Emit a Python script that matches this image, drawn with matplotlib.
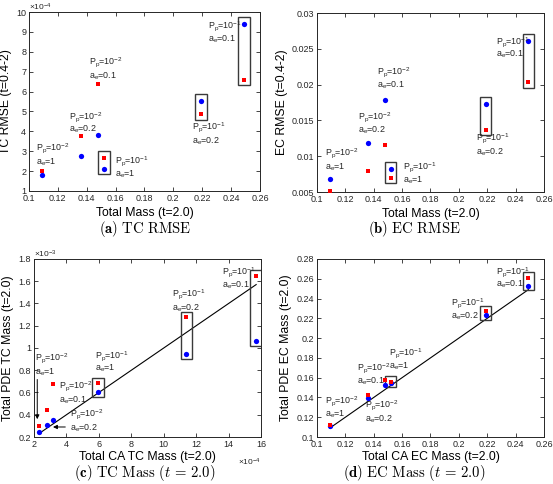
import numpy as np
import matplotlib
matplotlib.use("Agg")
import matplotlib.pyplot as plt
from matplotlib.patches import Rectangle
from matplotlib.ticker import FuncFormatter

# ----------------------
# DATA
# ----------------------
# total mass at t=2.0 for the six runs (order: Pp=1e-2 ae=1,0.2,0.1 / Pp=1e-1 ae=1,0.2,0.1)
total_mass = [0.109, 0.136, 0.148, 0.152, 0.219, 0.249]

tc_rmse_blue = [1.78e-4, 2.78e-4, 3.80e-4, 2.12e-4, 5.50e-4, 9.40e-4]
tc_rmse_red = [2.00e-4, 3.78e-4, 6.40e-4, 2.65e-4, 4.85e-4, 6.60e-4]

ec_rmse_blue = [0.0068, 0.0118, 0.0178, 0.0082, 0.0173, 0.0261]
ec_rmse_red = [0.0051, 0.0080, 0.0116, 0.0070, 0.0137, 0.0203]

tc_ca_mass = [2.30e-4, 2.80e-4, 3.17e-4, 5.95e-4, 11.4e-4, 15.7e-4]
tc_pde_blue = [0.245e-3, 0.308e-3, 0.356e-3, 0.603e-3, 0.943e-3, 1.063e-3]
tc_pde_red = [0.303e-3, 0.447e-3, 0.672e-3, 0.681e-3, 1.277e-3, 1.650e-3]

ec_ca_mass = [0.109, 0.136, 0.148, 0.152, 0.219, 0.249]
ec_pde_blue = [0.111, 0.139, 0.153, 0.155, 0.223, 0.253]
ec_pde_red = [0.112, 0.142, 0.158, 0.156, 0.227, 0.261]

pp_labels = ["10$^{-2}$", "10$^{-2}$", "10$^{-2}$", "10$^{-1}$", "10$^{-1}$", "10$^{-1}$"]
ae_labels = ["1", "0.2", "0.1", "1", "0.2", "0.1"]
boxed = [3, 4, 5]

# ----------------------
# STYLE
# ----------------------
plt.rcParams["font.family"] = ["Liberation Sans", "DejaVu Sans"]
plt.rcParams["mathtext.fontset"] = "custom"
plt.rcParams["mathtext.rm"] = "Liberation Sans"
plt.rcParams["mathtext.it"] = "Liberation Sans:italic"
plt.rcParams["mathtext.bf"] = "Liberation Sans:bold"

AX_COL = "#262626"
BLUE = "#0000ff"
RED = "#ff0000"
BOX_COL = "#3a3a3a"
TXT = 6.4
LAB = 8.8


def style_axes(ax, xlim, xticks, ylim, yticks, xscale=1.0, yscale=1.0):
    ax.set_xlim(*xlim)
    ax.set_ylim(*ylim)
    ax.set_xticks(xticks)
    ax.set_yticks(yticks)
    ax.xaxis.set_major_formatter(FuncFormatter(lambda v, _: "%g" % round(v / xscale, 6)))
    ax.yaxis.set_major_formatter(FuncFormatter(lambda v, _: "%g" % round(v / yscale, 6)))
    ax.tick_params(direction="in", top=True, right=True, length=3, width=0.6,
                   labelsize=6.5, pad=2, colors=AX_COL)
    for s in ax.spines.values():
        s.set_color(AX_COL)
        s.set_linewidth(0.7)


def draw_pairs(ax, x, blue, red):
    ax.plot(x, blue, "o", color=BLUE, markersize=3.8, markeredgewidth=0, zorder=3)
    ax.plot(x, red, "s", color=RED, markersize=2.7, markeredgewidth=0, zorder=3)


def draw_boxes(ax, x, blue, red, lo=0.03, hi=0.04, hw=0.025):
    x0, x1 = ax.get_xlim()
    y0, y1 = ax.get_ylim()
    for i in boxed:
        bot = min(blue[i], red[i]) - lo * (y1 - y0)
        top = max(blue[i], red[i]) + hi * (y1 - y0)
        w = hw * (x1 - x0)
        ax.add_patch(Rectangle((x[i] - w, bot), 2 * w, top - bot, fill=False,
                               edgecolor=BOX_COL, linewidth=1.0, zorder=2))


def draw_labels(ax, pos):
    for i, (tx, ty_p, ty_a) in enumerate(pos):
        ax.text(tx, ty_p, "P$_{\\rm p}$=" + pp_labels[i], fontsize=TXT, color=AX_COL, va="center")
        ax.text(tx, ty_a, "a$_{\\rm e}$=" + ae_labels[i], fontsize=TXT, color=AX_COL, va="center")


fig = plt.figure(figsize=(5.53, 4.84), dpi=100)
ax_a = fig.add_axes([0.0524, 0.6054, 0.4177, 0.3698])
ax_b = fig.add_axes([0.5732, 0.6033, 0.4105, 0.3698])
ax_c = fig.add_axes([0.0615, 0.0971, 0.4105, 0.3678])
ax_d = fig.add_axes([0.5732, 0.0971, 0.4105, 0.3678])

mass_ticks = np.arange(0.1, 0.261, 0.02)

# --- (a) TC RMSE
style_axes(ax_a, (0.1, 0.26), mass_ticks, (1e-4, 10e-4), np.arange(1, 11) * 1e-4, yscale=1e-4)
draw_pairs(ax_a, total_mass, tc_rmse_blue, tc_rmse_red)
draw_boxes(ax_a, total_mass, tc_rmse_blue, tc_rmse_red)
draw_labels(ax_a, [(0.1046, 3.18e-4, 2.47e-4), (0.1277, 4.74e-4, 4.1e-4), (0.1416, 7.47e-4, 6.77e-4),
                   (0.1594, 2.48e-4, 1.84e-4), (0.2126, 4.19e-4, 3.48e-4), (0.2237, 9.3e-4, 8.62e-4)])
ax_a.text(0.0, 1.01, "\u00d710$^{-4}$", transform=ax_a.transAxes, fontsize=6, color=AX_COL)
ax_a.set_xlabel("Total Mass (t=2.0)", fontsize=LAB, labelpad=3)
ax_a.set_ylabel("TC RMSE (t=0.4-2)", fontsize=LAB, labelpad=3)

# --- (b) EC RMSE
style_axes(ax_b, (0.1, 0.26), mass_ticks, (0.005, 0.03), np.arange(0.005, 0.0301, 0.005))
draw_pairs(ax_b, total_mass, ec_rmse_blue, ec_rmse_red)
draw_boxes(ax_b, total_mass, ec_rmse_blue, ec_rmse_red)
draw_labels(ax_b, [(0.1056, 0.01037, 0.0085), (0.1286, 0.01551, 0.01365), (0.142, 0.0218, 0.01995),
                   (0.1608, 0.0085, 0.00664), (0.2124, 0.01248, 0.0106), (0.226, 0.026, 0.0243)])
ax_b.set_xlabel("Total Mass (t=2.0)", fontsize=LAB, labelpad=3)
ax_b.set_ylabel("EC RMSE (t=0.4-2)", fontsize=LAB, labelpad=3)

# --- (c) TC Mass
style_axes(ax_c, (2e-4, 16e-4), np.arange(2, 17, 2) * 1e-4, (0.2e-3, 1.8e-3),
           np.arange(0.2, 1.81, 0.2) * 1e-3, xscale=1e-4, yscale=1e-3)
ax_c.plot([tc_ca_mass[0], tc_ca_mass[-1]], [tc_ca_mass[0], tc_ca_mass[-1]],
          color="black", linewidth=0.8, zorder=2)
draw_pairs(ax_c, tc_ca_mass, tc_pde_blue, tc_pde_red)
draw_boxes(ax_c, tc_ca_mass, tc_pde_blue, tc_pde_red, lo=0.028, hi=0.03)
draw_labels(ax_c, [(2.04e-4, 0.905e-3, 0.785e-3), (4.2e-4, 0.407e-3, 0.278e-3), (3.55e-4, 0.658e-3, 0.533e-3),
                   (5.76e-4, 0.928e-3, 0.815e-3), (10.54e-4, 1.487e-3, 1.358e-3), (13.59e-4, 1.68e-3, 1.56e-3)])
ax_c.annotate("", xy=(2.2e-4, 0.335e-3), xytext=(2.2e-4, 0.742e-3),
              arrowprops=dict(arrowstyle="-|>", color="black", lw=0.7, mutation_scale=6))
ax_c.annotate("", xy=(3.0e-4, 0.29e-3), xytext=(4.1e-4, 0.29e-3),
              arrowprops=dict(arrowstyle="-|>", color="black", lw=0.7, mutation_scale=6))
ax_c.text(0.0, 1.01, "\u00d710$^{-3}$", transform=ax_c.transAxes, fontsize=6, color=AX_COL)
ax_c.text(1.0, -0.11, "\u00d710$^{-4}$", transform=ax_c.transAxes, fontsize=6, color=AX_COL,
          ha="right", va="top")
ax_c.set_xlabel("Total CA TC Mass (t=2.0)", fontsize=LAB, labelpad=1.5)
ax_c.set_ylabel("Total PDE TC Mass (t=2.0)", fontsize=LAB, labelpad=3)

# --- (d) EC Mass
style_axes(ax_d, (0.1, 0.26), mass_ticks, (0.1, 0.28), np.arange(0.1, 0.281, 0.02))
ax_d.plot([ec_ca_mass[0], ec_ca_mass[-1]], [ec_ca_mass[0], ec_ca_mass[-1]],
          color="black", linewidth=0.8, zorder=2)
draw_pairs(ax_d, ec_ca_mass, ec_pde_blue, ec_pde_red)
draw_boxes(ax_d, ec_ca_mass, ec_pde_blue, ec_pde_red, lo=0.024, hi=0.032)
draw_labels(ax_d, [(0.1059, 0.136, 0.1226), (0.134, 0.1327, 0.1175), (0.128, 0.1698, 0.1563),
                   (0.1505, 0.1848, 0.1713), (0.1948, 0.2356, 0.2221), (0.2265, 0.267, 0.254)])
ax_d.set_xlabel("Total CA EC Mass (t=2.0)", fontsize=LAB, labelpad=1.5)
ax_d.set_ylabel("Total PDE EC Mass (t=2.0)", fontsize=LAB, labelpad=3)

# ----------------------
# CAPTIONS
# ----------------------
cap = dict(fontsize=10.6, ha="center", va="center", math_fontfamily="cm", color="black")
fig.text(0.262, 1 - 229 / 484, r"$\mathbf{(a)}\ \mathrm{TC\ RMSE}$", **cap)
fig.text(0.750, 1 - 229 / 484, r"$\mathbf{(b)}\ \mathrm{EC\ RMSE}$", **cap)
fig.text(0.262, 1 - 473 / 484, r"$\mathbf{(c)}\ \mathrm{TC\ Mass}\ (t\,=\,2.0)$", **cap)
fig.text(0.750, 1 - 473 / 484, r"$\mathbf{(d)}\ \mathrm{EC\ Mass}\ (t\,=\,2.0)$", **cap)

fig.savefig("out.png", dpi=100)
